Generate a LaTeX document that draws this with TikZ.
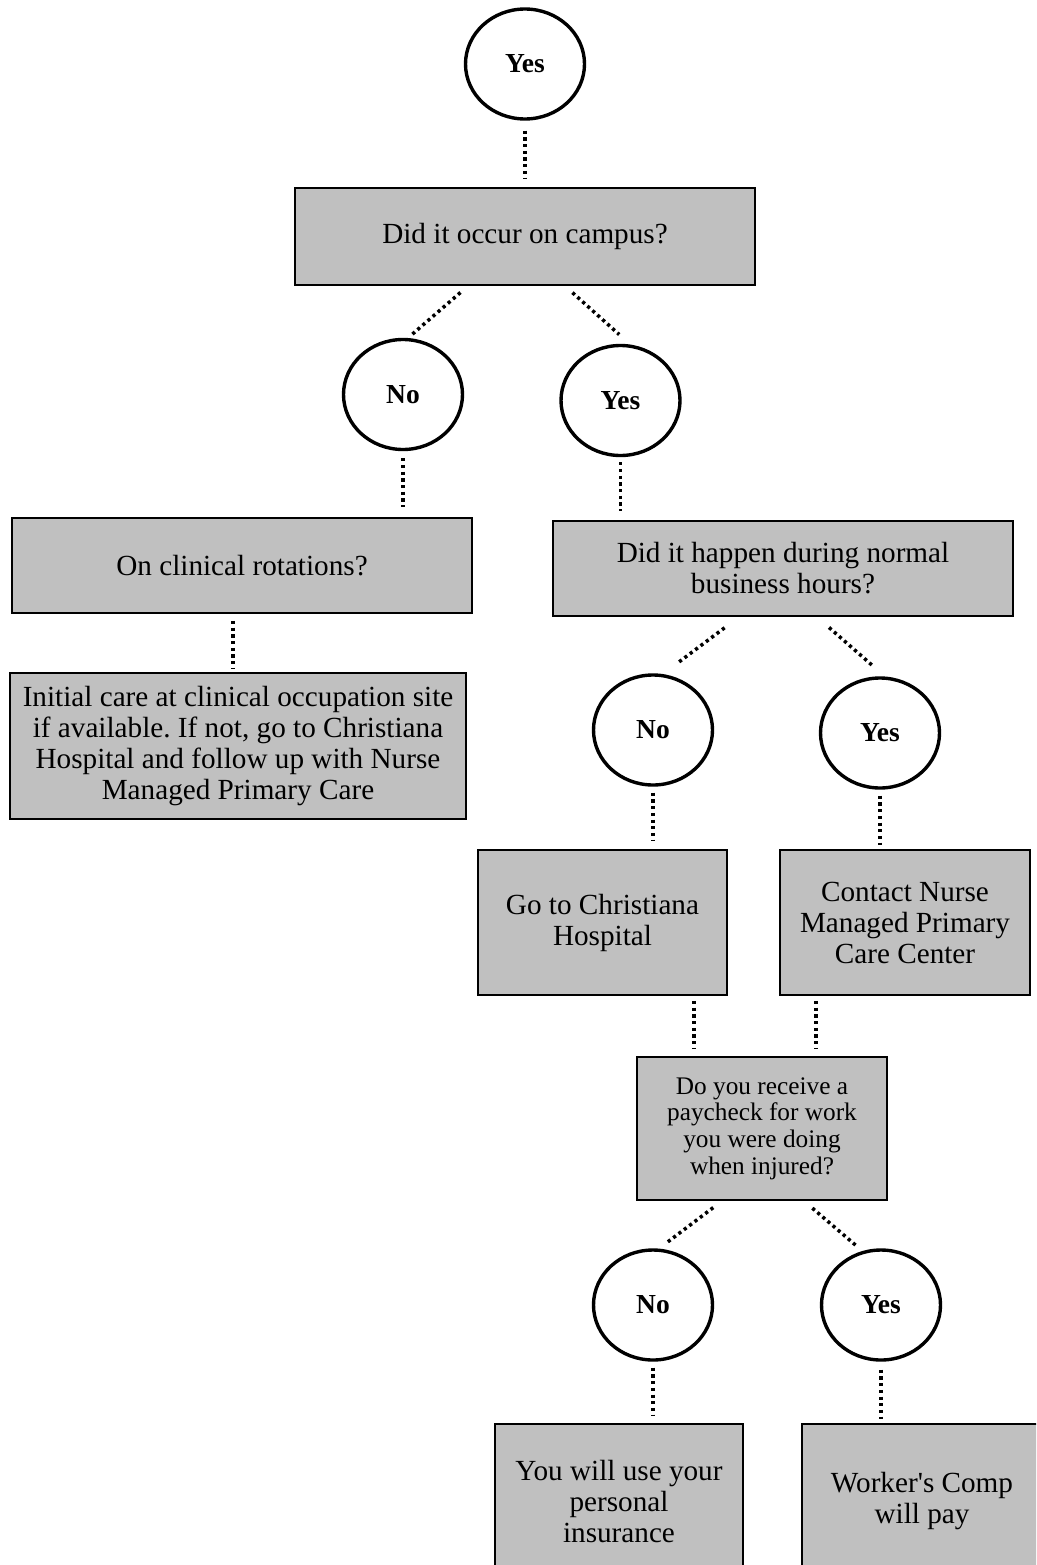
\documentclass[tikz,border=0pt]{standalone}
\usepackage{fontspec}
\setmainfont{Liberation Serif}
\usepackage{tikz}
\usetikzlibrary{shapes.geometric, calc}
\definecolor{boxgray}{RGB}{192,192,192}
\newcommand{\bigtext}{\fontsize{29.2}{31}\selectfont}
\newcommand{\smalltext}{\fontsize{25.3}{26.7}\selectfont}
\newcommand{\answertext}{\fontsize{27.5}{28}\selectfont\bfseries}
\frenchspacing

\begin{document}
\begin{tikzpicture}[
    x=1pt, y=-1pt,
    every node/.style={font=\bigtext},
    box/.style={draw, line width=1.9pt, fill=#1, align=center, inner sep=0pt},
    box/.default=boxgray,
    answer/.style={ellipse, draw, line width=3.4pt, minimum width=119pt, minimum height=110pt, inner sep=0pt, font=\answertext},
    link/.style={line width=3.5pt, dash pattern=on 3.2pt off 3.5pt}
]
\clip (0,0) rectangle (1036,1565);

% Start
\node[answer] (yes1) at (525,64) {Yes};

% Campus question
\node[box, minimum width=460pt, minimum height=97pt] (campus) at (525,236.5) {Did it occur on campus?};
\node[answer] (no1) at (403,394.5) {No};
\node[answer] (yes2) at (620.5,400.5) {Yes};

% Off campus branch
\node[box, minimum width=460pt, minimum height=95pt] (clinical) at (242,565.5) {On clinical rotations?};
\node[box, minimum width=456pt, minimum height=146pt] (initial) at (238,746)
    {Initial care at clinical occupation site\\if available. If not, go to Christiana\\Hospital and follow up with Nurse\\Managed Primary Care};

% On campus branch
\node[box, minimum width=460pt, minimum height=95pt] (hours) at (783,568.5) {Did it happen during normal\\business hours?};
\node[answer] (no2) at (653,730) {No};
\node[answer] (yes3) at (880,733) {Yes};
\node[box, minimum width=249pt, minimum height=145pt] (hospital) at (602.5,922.5) {Go to Christiana\\Hospital};
\node[box, minimum width=250pt, minimum height=145pt] (nurse) at (905,922.5) {Contact Nurse\\Managed Primary\\Care Center};

% Paycheck question
\node[box, minimum width=250pt, minimum height=143pt, font=\smalltext] (paycheck) at (762,1128.5)
    {Do you receive a\\paycheck for work\\you were doing\\when injured?};
\node[answer] (no3) at (653,1305) {No};
\node[answer] (yes4) at (881,1305) {Yes};
\node[box, minimum width=248pt, minimum height=155pt] (personal) at (619,1501.5) {You will use your\\personal\\insurance};
\node[box, minimum width=240pt, minimum height=155pt] (comp) at (922,1501.5) {Worker\textquotesingle s Comp\\will pay};

% Dotted links, top part
\draw[link, shorten <=10pt, shorten >=8pt] (yes1) -- (campus);
\draw[link, shorten <=10pt, shorten >=5pt] ($(campus.south)+(-57,0)$) -- (no1.85);
\draw[link, shorten <=10pt, shorten >=15pt] ($(campus.south)+(40,0)$) -- (yes2.80);
\draw[link, shorten <=7pt, shorten >=10pt] (no1.south) -- (no1.south |- clinical.north);
\draw[link, shorten <=5pt, shorten >=9pt] (yes2.south) -- (yes2.south |- hours.north);
\coordinate (initTop) at ($(initial.north)+(-5,0)$);
\draw[link, shorten <=7pt, shorten >=3pt] (initTop |- clinical.south) -- (initTop);

% Dotted links, business hours
\draw[link, shorten <=18pt, shorten >=18pt] ($(hours.south)+(-44,0)$) -- (no2.80);
\draw[link, shorten <=16pt, shorten >=16pt] ($(hours.south)+(34,0)$) -- (yes3.85);
\draw[link, shorten <=6pt, shorten >=8pt] (no2.south) -- (no2.south |- hospital.north);
\draw[link, shorten <=6pt, shorten >=4pt] (yes3.south) -- (yes3.south |- nurse.north);

% Dotted links into paycheck
\coordinate (payL) at ($(paycheck.north)+(-68,0)$);
\coordinate (payR) at ($(paycheck.north)+(54,0)$);
\draw[link, shorten <=5pt, shorten >=7pt] (payL |- hospital.south) -- (payL);
\draw[link, shorten <=5pt, shorten >=7pt] (payR |- nurse.south) -- (payR);

% Dotted links, paycheck
\draw[link, shorten <=11pt, shorten >=10pt] ($(paycheck.south)+(-40,0)$) -- (no3.84);
\draw[link, shorten <=11pt, shorten >=7pt] ($(paycheck.south)+(42,0)$) -- (yes4.109);
\draw[link, shorten <=6pt, shorten >=7pt] (no3.south) -- (no3.south |- personal.north);
\draw[link, shorten <=8pt, shorten >=4pt] (yes4.south) -- (yes4.south |- comp.north);

\end{tikzpicture}
\end{document}
